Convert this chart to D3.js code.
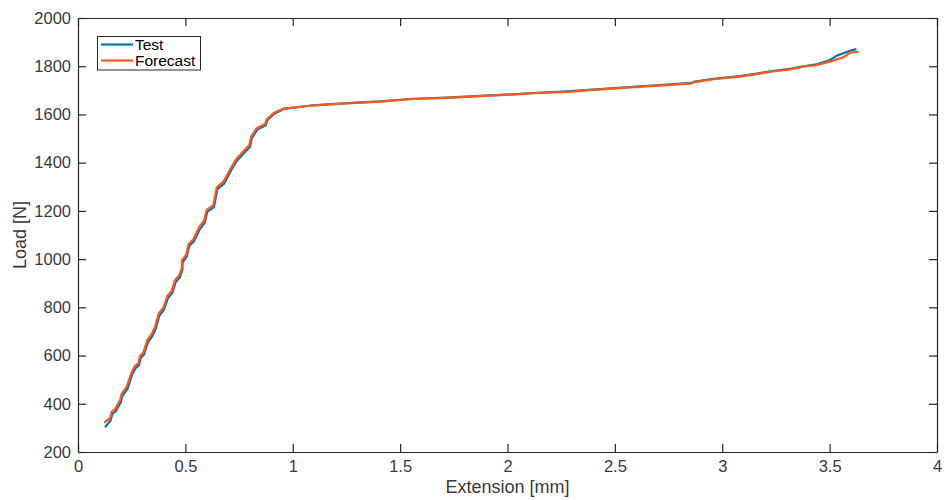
<!DOCTYPE html>
<html>
<head>
<meta charset="utf-8">
<script src="https://cdn.jsdelivr.net/npm/d3@7"></script>
<style>
  body { margin: 0; background: #fff; }
  svg text { font-family: "Liberation Sans", Arial, Helvetica, sans-serif; }
</style>
</head>
<body>
<div id="chart"></div>
<script>
'use strict';

// values
const forecastExt = [0.122, 0.149, 0.157, 0.172, 0.196, 0.203, 0.227, 0.242, 0.250, 0.265,
  0.281, 0.289, 0.304, 0.323, 0.343, 0.359, 0.376, 0.397, 0.416, 0.436,
  0.452, 0.472, 0.483, 0.484, 0.503, 0.515, 0.537, 0.549, 0.565, 0.587,
  0.599, 0.630, 0.646, 0.677, 0.692, 0.711, 0.736, 0.767, 0.798, 0.806,
  0.832, 0.871, 0.879, 0.909, 0.941, 0.956,
  1.094, 1.251, 1.406, 1.560, 1.717, 1.872, 2.058, 2.120, 2.276, 2.431,
  2.586, 2.741, 2.858, 2.865, 2.958, 3.083, 3.160, 3.222, 3.316, 3.377,
  3.440, 3.502, 3.564, 3.595, 3.634];
const forecastLoad = [322, 340, 367, 377, 416, 441, 471, 511, 531, 557,
  568, 599, 612, 665, 689, 720, 775, 798, 847, 868,
  913, 934, 962, 996, 1017, 1063, 1082, 1104, 1134, 1159,
  1204, 1224, 1298, 1321, 1345, 1377, 1414, 1444, 1473, 1508,
  1543, 1560, 1580, 1605, 1618, 1624,
  1637, 1646, 1653, 1664, 1669, 1676, 1684, 1688, 1694, 1704,
  1713, 1722, 1729, 1733, 1746, 1757, 1767, 1777, 1787, 1798,
  1805, 1819, 1837, 1856, 1860];

const testExt = [0.126, 0.151, 0.160, 0.175, 0.199, 0.206, 0.230, 0.245, 0.253, 0.268,
  0.284, 0.292, 0.307, 0.326, 0.346, 0.362, 0.379, 0.400, 0.419, 0.439,
  0.455, 0.475, 0.486, 0.487, 0.506, 0.518, 0.540, 0.552, 0.568, 0.590,
  0.602, 0.633, 0.649, 0.680, 0.695, 0.714, 0.739, 0.770, 0.801, 0.809,
  0.835, 0.874, 0.882, 0.912, 0.944, 0.959,
  1.094, 1.251, 1.406, 1.560, 1.717, 1.872, 2.058, 2.120, 2.276, 2.431,
  2.586, 2.741, 2.858, 2.865, 2.958, 3.083, 3.160, 3.222, 3.316, 3.377,
  3.440, 3.502, 3.530, 3.564, 3.595, 3.625];
const testLoad = [302, 330, 358, 368, 406, 432, 461, 502, 522, 548,
  560, 590, 604, 656, 681, 711, 766, 790, 838, 860,
  905, 926, 954, 987, 1009, 1055, 1074, 1096, 1126, 1151,
  1196, 1216, 1290, 1313, 1337, 1370, 1407, 1437, 1466, 1501,
  1537, 1555, 1576, 1602, 1616, 1623,
  1638, 1647, 1654, 1665, 1670, 1677, 1685, 1689, 1696, 1705,
  1714, 1724, 1731, 1735, 1748, 1759, 1769, 1779, 1789, 1800,
  1808, 1826, 1842, 1854, 1864, 1871];

const xTicks = [0, 0.5, 1, 1.5, 2, 2.5, 3, 3.5, 4];
const yTicks = [200, 400, 600, 800, 1000, 1200, 1400, 1600, 1800, 2000];
const seriesNames = ["Test", "Forecast"];
const seriesColors = ["#0072bd", "#fc5a1a"];

const width = 944, height = 500;
const plotLeft = 78, plotRight = 937, plotTop = 18, plotBottom = 452;
const axisColor = "#262626";

const svg = d3.select('#chart').append('svg')
  .attr('width', width)
  .attr('height', height);

const xScale = d3.scaleLinear().domain([0, 4]).range([plotLeft, plotRight]);
const yScale = d3.scaleLinear().domain([200, 2000]).range([plotBottom, plotTop]);

// lines
const line = d3.line()
  .x((d) => xScale(d[0]))
  .y((d) => yScale(d[1]));

const testData = testExt.map((v, i) => [v, testLoad[i]]);
const forecastData = forecastExt.map((v, i) => [v, forecastLoad[i]]);

[testData, forecastData].forEach((series, i) => {
  svg.append('path')
    .datum(series)
    .attr('fill', 'none')
    .attr('stroke', seriesColors[i])
    .attr('stroke-width', 2.2)
    .attr('stroke-linejoin', 'round')
    .attr('d', line);
});

// axes, ticks pointing inward
function styleAxis(g) {
  g.select('.domain').attr('stroke', axisColor).attr('stroke-width', 1.2);
  g.selectAll('.tick line').attr('stroke', axisColor).attr('stroke-width', 1.2);
  g.selectAll('.tick text')
    .attr('fill', '#3a3a3a')
    .style('font-size', '16.5px');
}

svg.append('g')
  .attr('transform', `translate(0, ${plotBottom})`)
  .call(d3.axisBottom(xScale).tickValues(xTicks).tickSize(-8).tickSizeOuter(0).tickPadding(8).tickFormat(d3.format('')))
  .call(styleAxis);

svg.append('g')
  .attr('transform', `translate(0, ${plotTop})`)
  .call(d3.axisTop(xScale).tickValues(xTicks).tickSize(-8).tickSizeOuter(0).tickFormat(''))
  .call(styleAxis);

svg.append('g')
  .attr('transform', `translate(${plotLeft}, 0)`)
  .call(d3.axisLeft(yScale).tickValues(yTicks).tickSize(-8).tickSizeOuter(0).tickPadding(7).tickFormat(d3.format('d')))
  .call(styleAxis);

svg.append('g')
  .attr('transform', `translate(${plotRight}, 0)`)
  .call(d3.axisRight(yScale).tickValues(yTicks).tickSize(-8).tickSizeOuter(0).tickFormat(''))
  .call(styleAxis);

// axis labels
svg.append('text')
  .attr('x', (plotLeft + plotRight) / 2)
  .attr('y', 493)
  .attr('text-anchor', 'middle')
  .attr('fill', '#3a3a3a')
  .style('font-size', '18px')
  .text('Extension [mm]');

svg.append('text')
  .attr('transform', `translate(26, ${(plotTop + plotBottom) / 2})rotate(-90)`)
  .attr('text-anchor', 'middle')
  .attr('fill', '#3a3a3a')
  .style('font-size', '18px')
  .text('Load [N]');

// legend
const legend = svg.append('g');
legend.append('rect')
  .attr('x', 97.5).attr('y', 36.5)
  .attr('width', 103).attr('height', 33.5)
  .attr('fill', '#fff')
  .attr('stroke', axisColor)
  .attr('stroke-width', 1);

seriesNames.forEach((name, i) => {
  const yy = 44.5 + i * 16;
  legend.append('line')
    .attr('x1', 101).attr('x2', 133)
    .attr('y1', yy).attr('y2', yy)
    .attr('stroke', seriesColors[i])
    .attr('stroke-width', 2.2);
  legend.append('text')
    .attr('x', 135)
    .attr('y', yy + 5.5)
    .attr('fill', '#000')
    .style('font-size', '15.5px')
    .text(name);
});
</script>
</body>
</html>
